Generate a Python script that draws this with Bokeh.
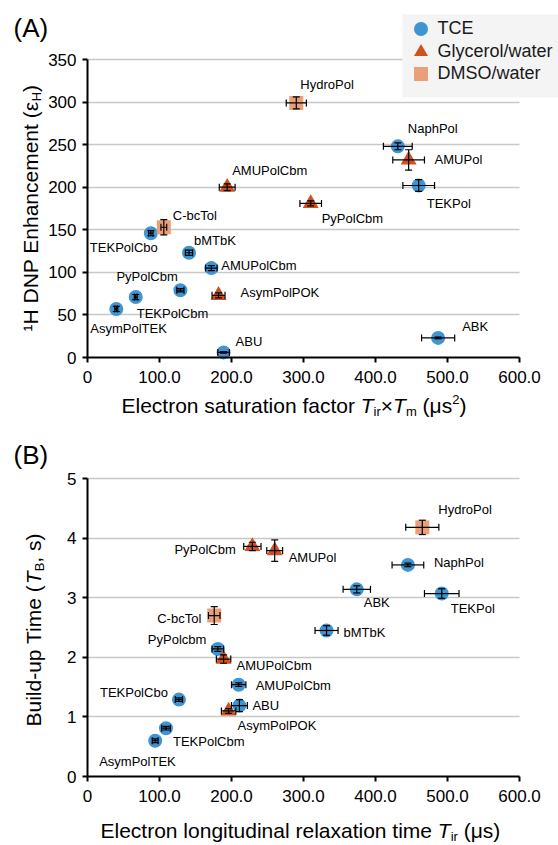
import math
from bokeh.plotting import figure
from bokeh.models import (ColumnDataSource, Whisker, TeeHead, Label, Legend,
                          LegendItem, FixedTicker, Range1d, BoxAnnotation)
from bokeh.layouts import column
from bokeh.embed import file_html
from bokeh.resources import INLINE
from bokeh.core.properties import value

# ---------------- Data: panel A (enhancement vs saturation factor) ----------------
a_tce_names = ["NaphPol", "TEKPol", "ABK", "ABU", "TEKPolCbo", "bMTbK",
               "AMUPolCbm", "PyPolCbm", "TEKPolCbm", "AsymPolTEK"]
a_tce_x = [431, 460, 487, 189, 88, 141, 172, 129, 67, 40]
a_tce_y = [248, 202, 23, 6, 146, 123, 105, 79, 71, 57]
a_tce_xerr = [20, 22, 23, 8, 3, 5, 8, 5, 2, 2]
a_tce_yerr = [4, 7, 1, 1, 3, 3, 3, 2, 3, 3]

a_gly_names = ["AMUPolCbm", "AMUPol", "PyPolCbm", "AsymPolPOK"]
a_gly_x = [194, 446, 310, 182]
a_gly_y = [200, 232, 181, 73]
a_gly_xerr = [11, 22, 15, 9]
a_gly_yerr = [4, 12, 3, 3]

a_dmso_names = ["HydroPol", "C-bcTol"]
a_dmso_x = [290, 106]
a_dmso_y = [299, 153]
a_dmso_xerr = [14, 4]
a_dmso_yerr = [7, 9]

# ---------------- Data: panel B (build-up time vs T_ir) ----------------
b_tce_names = ["NaphPol", "TEKPol", "ABK", "bMTbK", "PyPolcbm", "AMUPolCbm",
               "ABU", "TEKPolCbo", "TEKPolCbm", "AsymPolTEK"]
b_tce_x = [445, 492, 374, 332, 181, 210, 211, 127, 109, 94]
b_tce_y = [3.55, 3.07, 3.14, 2.45, 2.14, 1.54, 1.19, 1.29, 0.81, 0.60]
b_tce_xerr = [22, 24, 19, 16, 8, 10, 11, 5, 6, 4]
b_tce_yerr = [0.03, 0.08, 0.06, 0.08, 0.04, 0.03, 0.10, 0.03, 0.03, 0.03]

b_gly_names = ["PyPolCbm", "AMUPol", "AMUPolCbm", "AsymPolPOK"]
b_gly_x = [229, 260, 189, 196]
b_gly_y = [3.86, 3.79, 1.97, 1.10]
b_gly_xerr = [12, 11, 10, 10]
b_gly_yerr = [0.07, 0.18, 0.07, 0.04]

b_dmso_names = ["HydroPol", "C-bcTol"]
b_dmso_x = [465, 176]
b_dmso_y = [4.18, 2.70]
b_dmso_xerr = [23, 8]
b_dmso_yerr = [0.12, 0.15]

x_ticks = [0, 100, 200, 300, 400, 500, 600]
x_tick_labels = ["0", "100.0", "200.0", "300.0", "400.0", "500.0", "600.0"]
a_y_ticks = [0, 50, 100, 150, 200, 250, 300, 350]
b_y_ticks = [0, 1, 2, 3, 4, 5]
series_names = ["TCE", "Glycerol/water", "DMSO/water"]

# ---------------- label pixel offsets (styling) ----------------
a_tce_off = [(10, -18), (8, 18), (24, -11), (12, -11), (-61, 14), (5, -12),
             (10, -3), (-64, -14), (1, 16), (-26, 20)]
a_gly_off = [(5, -17), (26, 0), (11, 15), (22, -3)]
a_dmso_off = [(4, -18), (9, -12)]
b_tce_off = [(26, -2), (9, 15), (7, 13), (17, 2), (-70, -9), (17, 1),
             (13, 0), (-79, -7), (7, 13), (-56, 21)]
b_gly_off = [(-78, 3), (14, 7), (13, 6), (9, 15)]
b_dmso_off = [(16, -18), (-57, 3)]

C_TCE = "#3F94D2"
C_GLY = "#D1501F"
C_DMSO = "#E9A079"
FONT = "Liberation Sans"
W_PX = 558
MID = 0.35  # distance (in em) from the alphabetic baseline to the "middle" anchor


def add_series(p, names, xs, ys, xerr, yerr, offs, marker, color, size):
    src = ColumnDataSource(dict(
        name=names, x=xs, y=ys,
        xl=[a - e for a, e in zip(xs, xerr)], xu=[a + e for a, e in zip(xs, xerr)],
        yl=[a - e for a, e in zip(ys, yerr)], yu=[a + e for a, e in zip(ys, yerr)],
        dx=[o[0] for o in offs], dy=[o[1] for o in offs]))
    r = p.scatter("x", "y", source=src, marker=marker, size=size,
                  fill_color=color, line_color=None)
    for dim, base, lo, up in (("width", "y", "xl", "xu"), ("height", "x", "yl", "yu")):
        w = Whisker(source=src, base=base, lower=lo, upper=up, dimension=dim,
                    level="annotation", line_color="black", line_width=1.2,
                    lower_head=TeeHead(size=7, line_color="black", line_width=1.2),
                    upper_head=TeeHead(size=7, line_color="black", line_width=1.2))
        p.add_layout(w)
    p.text("x", "y", text="name", x_offset="dx", y_offset="dy", source=src,
           text_font=value(FONT), text_font_size="13px", text_baseline="middle",
           text_align="left", text_color="black")
    return r


def make_fig(height, box, xmax, ymax, yticks):
    """box = (left, right, top, bottom) pixel edges of the data area in the canvas."""
    left, right, top, bottom = box
    ux = xmax / (right - left)
    uy = ymax / (bottom - top)
    xr = Range1d(-left * ux, xmax + (W_PX - right) * ux)
    yr = Range1d(-(height - bottom) * uy, ymax + top * uy)
    p = figure(width=W_PX, height=height, x_range=xr, y_range=yr,
               output_backend="svg", toolbar_location=None, min_border=0)
    p.title.visible = False
    p.outline_line_color = None
    p.xgrid.visible = False
    for ax in (p.xaxis[0], p.yaxis[0]):
        ax.fixed_location = 0
        ax.axis_line_color = "black"
        ax.axis_line_width = 2
        ax.major_tick_line_color = "black"
        ax.major_tick_line_width = 2
        ax.major_tick_in = 0
        ax.major_tick_out = 5
        ax.minor_tick_line_color = None
        ax.major_label_text_font = FONT
        ax.major_label_text_font_size = "17px"
        ax.major_label_text_color = "black"
    p.xaxis.bounds = (0, xmax)
    p.yaxis.bounds = (0, ymax)
    p.xaxis.ticker = FixedTicker(ticks=x_ticks)
    p.xaxis.major_label_overrides = {t: s for t, s in zip(x_ticks, x_tick_labels)}
    p.xaxis.major_label_standoff = 8
    p.yaxis.ticker = FixedTicker(ticks=yticks)
    p.yaxis.major_label_standoff = 6
    g = p.ygrid[0]
    g.ticker = FixedTicker(ticks=yticks[1:])
    g.grid_line_color = "#c8c8c8"
    g.grid_line_width = 1.5
    try:
        g.cross_bounds = (0, xmax)
    except Exception:
        g.visible = False
        yt = yticks[1:]
        p.segment(x0=[0] * len(yt), x1=[xmax] * len(yt), y0=yt, y1=yt,
                  line_color="#c8c8c8", line_width=1.5, level="underlay")
    return p


W = {' ': 278, 'E': 667, 'l': 222, 'e': 556, 'c': 500, 't': 278, 'r': 333, 'o': 556,
     'n': 556, 's': 500, 'a': 556, 'u': 556, 'i': 222, 'f': 278, 'T': 611, '×': 584,
     '(': 333, 'μ': 577, ')': 333, 'm': 833, '2': 556, 'g': 556, 'd': 556, 'x': 500,
     'B': 667, '-': 333, 'p': 556, ',': 278, 'H': 722, 'D': 722, 'N': 722, 'P': 667,
     'h': 556, 'ε': 460, '¹': 333, 'A': 667}


def tw(s, size):
    return sum(W.get(ch, 556) for ch in s) * size / 1000.0


def rich(p, pieces, x0, y0, vertical=False):
    """x0, y0: start of the alphabetic baseline in frame screen units (y up)."""
    pos = 0.0
    for text, size, shift, italic in pieces:
        body = text.lstrip(" ")
        lead = tw(text[:len(text) - len(body)], size)
        if vertical:
            x, y, ang = x0 + shift - MID * size, y0 + pos + lead, math.pi / 2
        else:
            x, y, ang = x0 + pos + lead, y0 - shift + MID * size, 0
        p.add_layout(Label(x=x, y=y, x_units="screen", y_units="screen", text=body,
                           angle=ang, text_font=FONT, text_font_size=f"{size}px",
                           text_font_style="italic" if italic else "normal",
                           text_baseline="middle", text_align="left",
                           text_color="black"))
        pos += tw(text, size)


def add_legend(p, height, renderers, labels, centers, glyph_cx, box):
    bl, br, bt, bb = box
    p.add_layout(BoxAnnotation(left=bl, right=br, top=height - bt, bottom=height - bb,
                               left_units="screen", right_units="screen",
                               top_units="screen", bottom_units="screen",
                               fill_color="#f4f4f4", fill_alpha=1, line_color=None))
    gs = 35
    for r, lab, cy in zip(renderers, labels, centers):
        lg = Legend(items=[LegendItem(label=lab, renderers=[r])],
                    location=(glyph_cx - gs / 2, height - (cy + gs / 2)),
                    glyph_width=gs, glyph_height=gs, spacing=0, padding=0,
                    label_standoff=0, margin=0,
                    label_text_font=FONT, label_text_font_size="18px",
                    label_text_color="#1a1a1a", background_fill_alpha=0,
                    border_line_color=None)
        p.add_layout(lg)


# ---------------- Panel A ----------------
H1 = 420
p1 = make_fig(H1, (87, 519, 59, 357), 600, 350, a_y_ticks)
r1 = add_series(p1, a_tce_names, a_tce_x, a_tce_y, a_tce_xerr, a_tce_yerr, a_tce_off, "circle", C_TCE, 14)
r2 = add_series(p1, a_gly_names, a_gly_x, a_gly_y, a_gly_xerr, a_gly_yerr, a_gly_off, "triangle", C_GLY, 16)
r3 = add_series(p1, a_dmso_names, a_dmso_x, a_dmso_y, a_dmso_xerr, a_dmso_yerr, a_dmso_off, "square", C_DMSO, 14)

add_legend(p1, H1, [r1, r2, r3], series_names, [28, 51, 73], 420, (402, 558, 14, 97))

rich(p1, [("Electron saturation factor ", 21, 0, False), ("T", 21, 0, True), ("ir", 13, 4, False),
          ("×", 21, 0, False), ("T", 21, 0, True), ("m", 13, 4, False), (" (μs", 21, 0, False),
          ("2", 13, -8, False), (")", 21, 0, False)], 121, H1 - 412)
rich(p1, [("¹H DNP Enhancement (ε", 21, 0, False), ("H", 13, 4, False), (")", 21, 0, False)],
     37, H1 - 331, vertical=True)
rich(p1, [("(A)", 26, 0, False)], 13, H1 - 37)

# ---------------- Panel B ----------------
H2 = 425
p2 = make_fig(H2, (87, 519, 58, 356), 600, 5, b_y_ticks)
add_series(p2, b_tce_names, b_tce_x, b_tce_y, b_tce_xerr, b_tce_yerr, b_tce_off, "circle", C_TCE, 14)
add_series(p2, b_gly_names, b_gly_x, b_gly_y, b_gly_xerr, b_gly_yerr, b_gly_off, "triangle", C_GLY, 16)
add_series(p2, b_dmso_names, b_dmso_x, b_dmso_y, b_dmso_xerr, b_dmso_yerr, b_dmso_off, "square", C_DMSO, 14)

rich(p2, [("Electron longitudinal relaxation time ", 21, 0, False), ("T", 21, 0, True),
          ("ir", 13, 4, False), (" (μs)", 21, 0, False)], 100, H2 - 417)
rich(p2, [("Build-up Time (", 21, 0, False), ("T", 21, 0, True), ("B", 13, 4, False),
          (", s)", 21, 0, False)], 40, H2 - 306, vertical=True)
rich(p2, [("(B)", 26, 0, False)], 13, H2 - 44)

layout = column(p1, p2, spacing=0)
open("out.html", "w").write(file_html(layout, INLINE))
